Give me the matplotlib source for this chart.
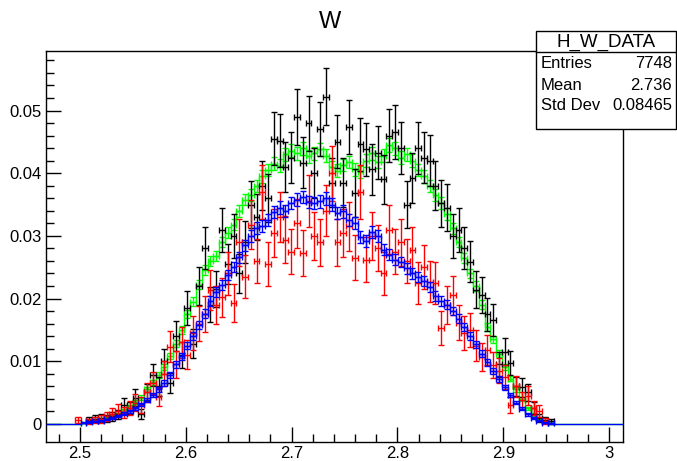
import numpy as np
import matplotlib
matplotlib.use("Agg")
import matplotlib.pyplot as plt
from matplotlib.patches import Rectangle

plt.rcParams['font.family'] = ['Liberation Sans', 'DejaVu Sans']

# binning of the histograms (100 bins)
x_lo, x_hi, n_bins = 2.468, 3.013, 100
first_bin = 5  # bin index of the first value in each list below

green_vals = [
    0, 0.0002, 0.0004, 0.0005, 0.0007, 0.0010, 0.0012, 0.0016, 0.0022, 0.0028,
    0.0035, 0.0042, 0.0055, 0.0066, 0.0078, 0.0090, 0.0108, 0.0128, 0.0150, 0.0175,
    0.0195, 0.0222, 0.0245, 0.0260, 0.0268, 0.0290, 0.0305, 0.0318, 0.0340, 0.0358,
    0.0365, 0.0380, 0.0395, 0.0405, 0.0415, 0.0412, 0.0430, 0.0436, 0.0432, 0.0440,
    0.0427, 0.0432, 0.0438, 0.0428, 0.0410, 0.0404, 0.0413, 0.0418, 0.0406, 0.0402,
    0.0420, 0.0432, 0.0418, 0.0428, 0.0445, 0.0440, 0.0425, 0.0430, 0.0420, 0.0405,
    0.0395, 0.0380, 0.0365, 0.0352, 0.0335, 0.0312, 0.0290, 0.0265, 0.0240, 0.0220,
    0.0190, 0.0155, 0.0135, 0.0112, 0.0090, 0.0072, 0.0055, 0.0040, 0.0025, 0.0015,
    0.0008, 0.0003, 0.0001, 0]

blue_vals = [
    0, 0.0002, 0.0003, 0.0004, 0.0005, 0.0007, 0.0009, 0.0012, 0.0016, 0.0020,
    0.0025, 0.0031, 0.0038, 0.0046, 0.0055, 0.0065, 0.0078, 0.0095, 0.0108, 0.0125,
    0.0140, 0.0158, 0.0176, 0.0196, 0.0210, 0.0222, 0.0238, 0.0250, 0.0266, 0.0285,
    0.0300, 0.0312, 0.0316, 0.0326, 0.0338, 0.0345, 0.0340, 0.0352, 0.0358, 0.0362,
    0.0354, 0.0352, 0.0355, 0.0360, 0.0350, 0.0337, 0.0339, 0.0326, 0.0320, 0.0298,
    0.0292, 0.0306, 0.0300, 0.0278, 0.0270, 0.0262, 0.0258, 0.0248, 0.0240, 0.0234,
    0.0228, 0.0218, 0.0204, 0.0196, 0.0190, 0.0180, 0.0168, 0.0155, 0.0140, 0.0127,
    0.0112, 0.0098, 0.0085, 0.0072, 0.0058, 0.0046, 0.0034, 0.0024, 0.0015, 0.0009,
    0.0005, 0.0002, 0.0001, 0]

red_vals = [
    0.0006, 0, 0.0004, 0.0006, 0.0008, 0.0012, 0.0016, 0.0021, 0.0018, 0.0026,
    0.0034, 0.0030, 0.0050, 0.0065, 0.0043, 0.0080, 0.0123, 0.0095, 0.0130, 0.0110,
    0.0145, 0.0160, 0.0175, 0.0214, 0.0190, 0.0202, 0.0240, 0.0193, 0.0290, 0.0235,
    0.0318, 0.0260, 0.0370, 0.0255, 0.0305, 0.0330, 0.0294, 0.0275, 0.0320, 0.0273,
    0.0355, 0.0300, 0.0290, 0.0340, 0.0400, 0.0290, 0.0305, 0.0315, 0.0265, 0.0370,
    0.0262, 0.0300, 0.0280, 0.0240, 0.0310, 0.0275, 0.0290, 0.0260, 0.0278, 0.0225,
    0.0250, 0.0227, 0.0225, 0.0153, 0.0190, 0.0205, 0.0161, 0.0145, 0.0150, 0.0125,
    0.0107, 0.0118, 0.0094, 0.0085, 0.0075, 0.0030, 0.0060, 0.0038, 0.0045, 0.0026,
    0.0020, 0.0005, 0, 0]

black_vals = [
    0, 0, 0.0006, 0.0008, 0.0010, 0.0008, 0.0012, 0.0015, 0.0030, 0.0025,
    0.0042, 0.0016, 0.0050, 0.0078, 0.0060, 0.0100, 0.0065, 0.0140, 0.0110, 0.0185,
    0.0128, 0.0220, 0.0280, 0.0190, 0.0215, 0.0310, 0.0255, 0.0300, 0.0240, 0.0290,
    0.0350, 0.0330, 0.0380, 0.0360, 0.0455, 0.0452, 0.0410, 0.0425, 0.0490, 0.0417,
    0.0480, 0.0400, 0.0470, 0.0522, 0.0385, 0.0450, 0.0385, 0.0474, 0.0369, 0.0446,
    0.0438, 0.0406, 0.0433, 0.0390, 0.0460, 0.0466, 0.0440, 0.0350, 0.0392, 0.0440,
    0.0425, 0.0420, 0.0380, 0.0352, 0.0345, 0.0300, 0.0310, 0.0280, 0.0259, 0.0214,
    0.0205, 0.0175, 0.0166, 0.0095, 0.0115, 0.0097, 0.0060, 0.0058, 0.0050, 0.0025,
    0.0010, 0.0006, 0.0004, 0]

# error scale per series (err = k * sqrt(content), Poisson-like)
err_k = {'green': 0.005, 'blue': 0.0053, 'red': 0.022, 'black': 0.02}

stats_title = "H_W_DATA"
stats_rows = [("Entries", "7748"), ("Mean", "2.736"), ("Std Dev", "0.08465")]

edges = np.linspace(x_lo, x_hi, n_bins + 1)
centers = 0.5 * (edges[:-1] + edges[1:])
half_w = 0.5 * (edges[1] - edges[0])


def full(vals):
    arr = np.zeros(n_bins)
    arr[first_bin:first_bin + len(vals)] = vals
    return arr


fig = plt.figure(figsize=(6.77, 4.61), dpi=100)
ax = fig.add_axes([46 / 677, 19 / 461, 577 / 677, 391 / 461])


def draw(vals, color, k, hist_line, z):
    v = full(vals)
    if hist_line:
        ax.stairs(v, edges, color=color, lw=1.0, zorder=z)
    m = v > 0
    ax.errorbar(centers[m], v[m], xerr=half_w, yerr=k * np.sqrt(v[m]),
                fmt='none', ecolor=color, elinewidth=1.0, capsize=2,
                capthick=1.0, zorder=z)


draw(green_vals, '#00ff00', err_k['green'], True, 2)
draw(black_vals, 'black', err_k['black'], False, 3)
draw(red_vals, '#ff0000', err_k['red'], False, 4)
draw(blue_vals, '#0000ff', err_k['blue'], True, 5)

ax.set_xlim(x_lo, x_hi)
ax.set_ylim(-0.0029, 0.0595)
ax.set_xticks([2.5, 2.6, 2.7, 2.8, 2.9, 3.0])
ax.set_xticklabels(["2.5", "2.6", "2.7", "2.8", "2.9", "3"])
ax.set_xticks(np.arange(2.48, 3.01, 0.02), minor=True)
ax.set_yticks([0, 0.01, 0.02, 0.03, 0.04, 0.05])
ax.set_yticklabels(["0", "0.01", "0.02", "0.03", "0.04", "0.05"])
ax.set_yticks(np.arange(0, 0.0595, 0.002), minor=True)
ax.tick_params(which='both', direction='in', top=False, right=False,
               labelsize=12, width=1)
ax.tick_params(which='major', length=11)
ax.tick_params(which='minor', length=6)
ax.tick_params(axis='x', pad=3)
ax.tick_params(axis='y', pad=3)
for s in ax.spines.values():
    s.set_linewidth(1)

fig.text(330 / 677, 1 - 22 / 461, "W", ha='center', va='center', fontsize=17)

# stats box
bx0, bx1, by0, by1 = 536, 676, 31, 129
W, H = 677, 461
fig.patches.append(Rectangle((bx0 / W, 1 - by1 / H), (bx1 - bx0) / W, (by1 - by0) / H,
                             transform=fig.transFigure, fill=True, facecolor='white',
                             edgecolor='black', lw=1, zorder=10))
fig.lines.append(plt.Line2D([bx0 / W, bx1 / W], [1 - 52 / H, 1 - 52 / H],
                            transform=fig.transFigure, color='black', lw=1, zorder=11))
fig.text((bx0 + bx1) / 2 / W, 1 - 42 / H, stats_title, ha='center', va='center',
         fontsize=13.5, zorder=12)
for j, (lab, val) in enumerate(stats_rows):
    yy = 1 - (64 + j * 21) / H
    fig.text(541 / W, yy, lab, ha='left', va='center', fontsize=12, zorder=12)
    fig.text(672 / W, yy, val, ha='right', va='center', fontsize=12, zorder=12)

fig.savefig("out.png", dpi=100)
